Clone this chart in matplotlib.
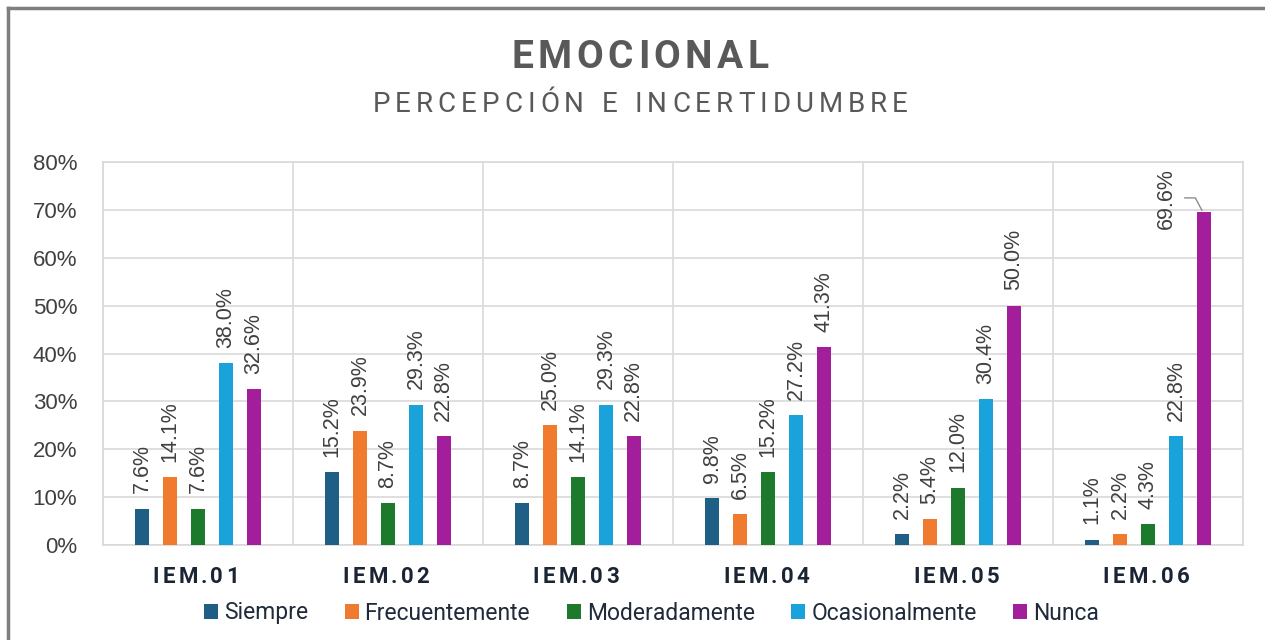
import numpy as np
import matplotlib.pyplot as plt
from matplotlib.lines import Line2D

# data
categories = ['IEM.01', 'IEM.02', 'IEM.03', 'IEM.04', 'IEM.05', 'IEM.06']
series_names = ['Siempre', 'Frecuentemente', 'Moderadamente', 'Ocasionalmente', 'Nunca']
siempre = [7.6, 15.2, 8.7, 9.8, 2.2, 1.1]
frecuentemente = [14.1, 23.9, 25.0, 6.5, 5.4, 2.2]
moderadamente = [7.6, 8.7, 14.1, 15.2, 12.0, 4.3]
ocasionalmente = [38.0, 29.3, 29.3, 27.2, 30.4, 22.8]
nunca = [32.6, 22.8, 22.8, 41.3, 50.0, 69.6]
y_ticks = [0, 10, 20, 30, 40, 50, 60, 70, 80]

series = [siempre, frecuentemente, moderadamente, ocasionalmente, nunca]
colors = ['#1F5F86', '#F07A2E', '#1D7A2C', '#1AA2DB', '#A31E9B']

plt.rcParams['font.family'] = ['Liberation Sans', 'DejaVu Sans']

fig = plt.figure(figsize=(12.65, 6.4), dpi=100)
ax = fig.add_axes([103 / 1265, 1 - 545 / 640, 1140 / 1265, 383 / 640])

x = np.arange(len(categories))
step = 0.147
width = 0.074
ymax = 80
for i, (name, vals, c) in enumerate(zip(series_names, series, colors)):
    pos = x + (i - 2) * step
    ax.bar(pos, vals, width, color=c, label=name, zorder=3)
    for px, v in zip(pos, vals):
        txt = '%.1f%%' % v
        if v > ymax - 12:
            # no room above the bar -> label on the left with a leader line
            ax.text(px - 0.195, v + 2.8, txt, rotation=90, ha='center', va='center',
                    fontsize=15.5, color='#404040')
            ax.add_line(Line2D([px - 0.1, px - 0.045, px - 0.01], [v + 2.9, v + 2.9, v + 0.3],
                               color='#8c8c8c', lw=1, zorder=4))
        else:
            ax.annotate(txt, (px, v), xytext=(0, 11), textcoords='offset points',
                        rotation=90, ha='center', va='bottom', fontsize=15.5, color='#404040')

ax.set_xlim(-0.5, len(categories) - 0.5)
ax.set_ylim(0, ymax)
ax.set_yticks(y_ticks)
ax.set_yticklabels(['%d%%' % t for t in y_ticks], fontsize=16, color='#404040')
ax.set_xticks(x)
ax.set_xticklabels([])
ax.set_xticks(np.arange(len(categories) + 1) - 0.5, minor=True)
ax.tick_params(axis='both', which='both', length=0)
ax.tick_params(axis='y', pad=18.5)
ax.grid(axis='y', color='#d9d9d9', lw=1.2, zorder=0)
ax.grid(axis='x', which='minor', color='#d9d9d9', lw=1.2, zorder=0)
for s in ax.spines.values():
    s.set_color('#d9d9d9')
    s.set_linewidth(1.2)


def spaced_text(x0, y0, s, extra, **kw):
    # text with extra letter spacing (pixels), centred on x0 (figure fraction)
    r = fig.canvas.get_renderer()
    ws = []
    for ch in s:
        t = fig.text(0, 0, ch if ch != ' ' else 'i', **kw)
        w = t.get_window_extent(r).width
        t.remove()
        ws.append(w * (1.0 if ch != ' ' else 1.1))
    total = sum(ws) + extra * (len(s) - 1)
    cur = x0 * 1265 - total / 2
    for ch, w in zip(s, ws):
        if ch != ' ':
            fig.text(cur / 1265, y0, ch, ha='left', va='center', **kw)
        cur += w + extra


spaced_text(0.506, 1 - 57 / 640, 'EMOCIONAL', 4.5, fontsize=28, fontweight='bold',
            color='#595959', family='Roboto')
spaced_text(0.506, 1 - 105 / 640, 'PERCEPCIÓN E INCERTIDUMBRE', 5.0, fontsize=20,
            color='#595959', family='Roboto')

for i, cat in enumerate(categories):
    xc = (103 + 190 * (i + 0.5)) / 1265
    spaced_text(xc - 2 / 1265, 1 - 577 / 640, cat, 3.2, fontsize=16, fontweight='bold',
                color='#1a2433', family='Roboto')

fig.legend(loc='center', bbox_to_anchor=(0.515, 1 - 613 / 640), ncol=5, frameon=False,
           prop={'family': 'Roboto', 'size': 16.5}, handlelength=0.61, handleheight=0.61,
           handletextpad=0.26, columnspacing=1.6, labelcolor='#1f2a3a')

# outer frame
fig.add_artist(Line2D([8 / 1265, 1], [1 - 8 / 640, 1 - 8 / 640], color='#7f7f7f', lw=2.5))
fig.add_artist(Line2D([8 / 1265, 8 / 1265], [0, 1 - 8 / 640], color='#7f7f7f', lw=2.5))

fig.savefig('out.png', dpi=100)
